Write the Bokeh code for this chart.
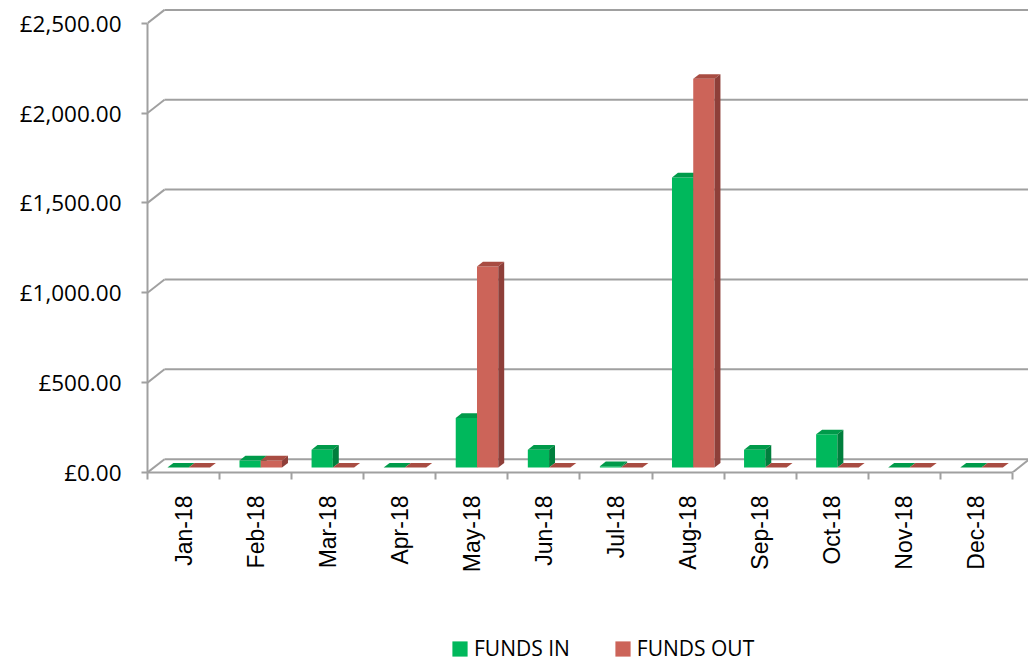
import math
from bokeh.plotting import figure
from bokeh.layouts import column
from bokeh.models import ColumnDataSource, FixedTicker, Legend, LegendItem, Range1d
from bokeh.embed import file_html
from bokeh.resources import INLINE

# ---------------- data ----------------
months = ["Jan-18", "Feb-18", "Mar-18", "Apr-18", "May-18", "Jun-18",
          "Jul-18", "Aug-18", "Sep-18", "Oct-18", "Nov-18", "Dec-18"]
funds_in = [0, 40, 99, 0, 276, 99, 8, 1614, 99, 185, 0, 0]
funds_out = [0, 40, 0, 0, 1119, 0, 0, 2163, 0, 0, 0, 0]
y_ticks = [0, 500, 1000, 1500, 2000, 2500]
y_labels = ["£0.00", "£500.00", "£1,000.00", "£1,500.00", "£2,000.00", "£2,500.00"]
series_names = ["FUNDS IN", "FUNDS OUT"]

# ---------------- layout / style ----------------
W = 1028
H1, H2 = 575, 88
PX_PER_CAT = 72.08
PX_PER_GBP = 0.182
LEFT, BOTTOM = 147, 97
x_end = (W - LEFT) / PX_PER_CAT
y_end = (H1 - BOTTOM) / PX_PER_GBP

DX = 17 / PX_PER_CAT          # depth offset of back wall (data units)
DY = 13.5 / PX_PER_GBP
F_FRONT, F_BACK = 0.37, 0.72  # bar depth position (fraction of floor depth)
BAR_W = 0.295
BAR_START = 0.189
GRID = "#A0A0A0"
COLORS = {
    "front": ["#00B85C", "#CC6459"],
    "top": ["#009A4A", "#A84C42"],
    "side": ["#007F3D", "#8E3F39"],
}

p = figure(width=W, height=H1, x_range=Range1d(0, x_end), y_range=Range1d(0, y_end),
           output_backend="svg", toolbar_location=None,
           min_border_left=LEFT, min_border_right=0, min_border_top=0,
           min_border_bottom=BOTTOM)
p.grid.visible = False
p.outline_line_color = None
p.background_fill_color = "white"
p.border_fill_color = "white"

n = len(months)

# ---------------- walls / floor ----------------
side_src = ColumnDataSource(dict(
    x0=[0] * len(y_ticks), y0=y_ticks,
    x1=[DX] * len(y_ticks), y1=[t + DY for t in y_ticks]))
p.segment("x0", "y0", "x1", "y1", source=side_src, line_color=GRID, line_width=2)
back_src = ColumnDataSource(dict(
    x0=[DX] * len(y_ticks), y0=[t + DY for t in y_ticks],
    x1=[n + 2] * len(y_ticks), y1=[t + DY for t in y_ticks]))
p.segment("x0", "y0", "x1", "y1", source=back_src, line_color=GRID, line_width=2)
p.segment(x0=[n], y0=[0], x1=[n + DX], y1=[DY], line_color=GRID, line_width=2)

# ---------------- 3D bars ----------------
ddx = (F_BACK - F_FRONT) * DX
ddy = (F_BACK - F_FRONT) * DY
front_sources = []
for k, vals in enumerate([funds_in, funds_out]):
    left = [i + BAR_START + k * BAR_W + F_FRONT * DX for i in range(n)]
    right = [l + BAR_W for l in left]
    bottom = [F_FRONT * DY] * n
    top = [v + F_FRONT * DY for v in vals]
    src = ColumnDataSource(dict(left=left, right=right, bottom=bottom, top=top))
    front_sources.append(src)
    p.quad(left="left", right="right", bottom="bottom", top="top", source=src,
           fill_color=COLORS["front"][k], line_color=None)
    top_xs = [[l, r_, r_ + ddx, l + ddx] for l, r_ in zip(left, right)]
    top_ys = [[t, t, t + ddy, t + ddy] for t in top]
    p.patches(xs=top_xs, ys=top_ys, fill_color=COLORS["top"][k], line_color=None)
    side_xs = [[r_, r_ + ddx, r_ + ddx, r_] for r_ in right]
    side_ys = [[b, b + ddy, t + ddy, t] for b, t in zip(bottom, top)]
    p.patches(xs=side_xs, ys=side_ys, fill_color=COLORS["side"][k], line_color=None)

# ---------------- axes ----------------
ya = p.yaxis[0]
ya.ticker = FixedTicker(ticks=y_ticks)
ya.bounds = (0, y_ticks[-1])
ya.major_label_overrides = dict(zip(y_ticks, y_labels))
ya.axis_line_color = GRID
ya.axis_line_width = 2
ya.major_tick_line_color = GRID
ya.major_tick_line_width = 2
ya.major_tick_out = 6
ya.major_tick_in = 0
ya.minor_tick_line_color = None
ya.major_label_text_font = "Open Sans"
ya.major_label_text_font_size = "22.5px"
ya.major_label_text_color = "black"
ya.major_label_standoff = 20

xa = p.xaxis[0]
centers = [i + 0.5 for i in range(n)]
xa.ticker = FixedTicker(ticks=centers, minor_ticks=list(range(n + 1)))
xa.bounds = (0, n)
xa.major_label_overrides = dict(zip(centers, months))
xa.axis_line_color = GRID
xa.axis_line_width = 2
xa.major_tick_out = 0
xa.major_tick_in = 0
xa.major_tick_line_color = None
xa.minor_tick_out = 7
xa.minor_tick_in = 0
xa.minor_tick_line_color = GRID
xa.minor_tick_line_width = 2
xa.major_label_orientation = math.pi / 2
xa.major_label_text_font = "Liberation Sans"
xa.major_label_text_font_size = "23px"
xa.major_label_text_color = "black"
xa.major_label_standoff = 16

# ---------------- legend (separate strip below the chart) ----------------
# the strip shows the same front-face glyphs, but its ranges keep them out of view,
# so only the legend is visible
p2 = figure(width=W, height=H2, x_range=Range1d(-2, -1), y_range=Range1d(-2, -1),
            output_backend="svg", toolbar_location=None,
            x_axis_location=None, y_axis_location=None,
            min_border_left=0, min_border_right=0, min_border_top=0, min_border_bottom=0)
p2.grid.visible = False
p2.outline_line_color = None
p2.border_fill_color = "white"
items = []
for k in range(2):
    r = p2.quad(left="left", right="right", bottom="bottom", top="top",
                source=front_sources[k], fill_color=COLORS["front"][k], line_color=None)
    items.append(LegendItem(label=series_names[k], renderers=[r]))
legend = Legend(items=items, orientation="horizontal", location=(303, 1),
                glyph_width=19, glyph_height=19, label_standoff=5, spacing=43,
                padding=0, margin=0, border_line_color=None, background_fill_alpha=0,
                label_text_font="Open Sans", label_text_font_size="21px",
                label_text_color="black")
p2.add_layout(legend)

layout = column(p, p2, spacing=0)
open("out.html", "w").write(file_html(layout, INLINE))
